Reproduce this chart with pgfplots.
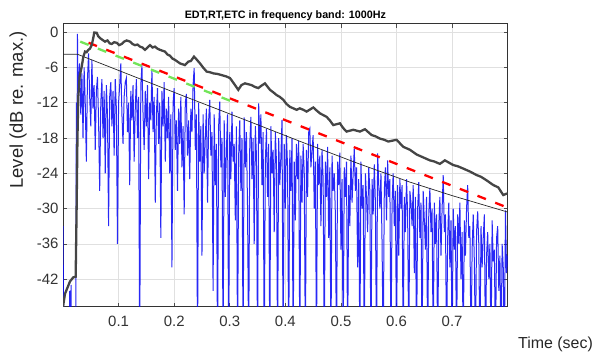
\documentclass[border=0pt]{standalone}
\usepackage{fontspec}
\setmainfont{Liberation Sans}
\usepackage{pgfplots}
\pgfplotsset{compat=1.18}
\definecolor{etcgray}{rgb}{0.27,0.27,0.27}
\definecolor{edtgreen}{rgb}{0.45,0.9,0.35}
\definecolor{etcblue}{rgb}{0.04,0.04,0.96}
\begin{document}
\begin{tikzpicture}
\useasboundingbox (0,0) rectangle (596bp,352bp);
\begin{axis}[
  at={(63bp,45.3bp)}, anchor=south west,
  scale only axis, width=444.7bp, height=282.7bp,
  xmin=0, xmax=0.8, ymin=-46.7, ymax=1.4,
  xtick={0.1,0.2,0.3,0.4,0.5,0.6,0.7},
  xticklabels={0.1,0.2,0.3,0.4,0.5,0.6,0.7},
  ytick={-42,-36,-30,-24,-18,-12,-6,0},
  yticklabels={-42,-36,-30,-24,-18,-12,-6,0},
  grid=major, major grid style={black!12, line width=0.6bp},
  axis line style={black!80, line width=1bp},
  tick align=inside, major tick length=4bp,
  tick style={black!70, line width=0.6bp},
  ticklabel style={font=\fontsize{15}{17}\selectfont, text=black!80},
  xticklabel style={yshift=-6bp},
  yticklabel style={xshift=-1bp},
  /pgf/number format/assume math mode=true,
  clip=true, axis on top=false,
]
% ETC (blue)
\addplot[etcblue, line width=1.0bp, opacity=0.88] coordinates {
(0.000,-33) (0.0015,-55) (0.011,-55) (0.012,-44) (0.013,-55) (0.0145,-43) (0.0155,-55) (0.023,-55) (0.024,-12) (0.025,-28) (0.026,-0.3) (0.027,-10)
(.028,-9) (.030,-5.3) (.032,-14) (.034,-7) (.036,-18) (.038,-6) (.040,-12) (.042,-22) (.044,-8) (.046,-3.6)
(.048,-11) (.050,-16) (.052,-4.7) (.054,-13) (.056,-9) (.058,-20) (.060,-10) (.062,-7.6) (.064,-15) (.066,-27)
(.068,-12) (.070,-8) (.072,-18) (.074,-10) (.076,-24) (.078,-9) (.080,-14) (.082,-33) (.084,-11) (.086,-8.5)
(.088,-16) (.090,-10) (.092,-21) (.094,-8) (.096,-13) (.098,-36) (.100,-12) (.102,-9) (.104,-5.3) (.106,-14)
(.108,-19) (.110,-11) (.112,-8.5) (.114,-7.8) (.116,-17) (.118,-12) (.120,-26) (.122,-10) (.124,-15) (.126,-9)
(.128,-22) (.130,-13) (.132,-8) (.134,-18) (.136,-11) (.138,-55) (.140,-9) (.142,-5.6) (.144,-14) (.146,-20)
(.148,-10) (.150,-16) (.152,-9) (.154,-25) (.156,-12) (.158,-15) (.160,-6.4) (.162,-17) (.164,-11) (.166,-29)
(.168,-14) (.170,-9.5) (.172,-19) (.174,-12) (.176,-35) (.178,-10) (.180,-16) (.182,-8.5) (.184,-22) (.186,-13)
(.188,-18) (.190,-11) (.192,-24) (.194,-14) (.196,-40) (.198,-12) (.200,-9.5) (.202,-20) (.204,-15) (.206,-27)
(.208,-13) (.210,-19) (.212,-11) (.214,-23) (.216,-16) (.218,-31) (.220,-12) (.222,-10.5) (.224,-21) (.226,-15)
(.228,-25) (.230,-13) (.232,-17) (.234,-9) (.236,-6.1) (.238,-20) (.240,-14) (.242,-55) (.244,-12) (.246,-22)
(.248,-16) (.250,-38) (.252,-14) (.254,-24) (.256,-18) (.258,-13) (.260,-29) (.262,-15) (.264,-11.5) (.266,-21)
(.268,-17) (.270,-44) (.272,-14) (.274,-26) (.276,-19) (.278,-55) (.280,-16) (.282,-11.8) (.284,-23) (.286,-18)
(.288,-55) (.290,-15) (.292,-28) (.294,-20) (.296,-14) (.298,-55) (.300,-17) (.302,-25) (.304,-13.5) (.306,-22)
(.308,-19) (.310,-32) (.312,-16) (.314,-55) (.316,-21) (.318,-15) (.320,-27) (.322,-18) (.324,-55) (.326,-14.5)
(.328,-23) (.330,-17) (.332,-30) (.334,-55) (.336,-19) (.338,-14.4) (.340,-25) (.342,-18) (.344,-36) (.346,-16)
(.348,-21) (.350,-55) (.352,-12.1) (.354,-19) (.356,-14) (.358,-26) (.360,-17) (.362,-55) (.364,-22) (.366,-16.5)
(.368,-28) (.370,-19) (.372,-55) (.374,-16) (.376,-24) (.378,-20) (.380,-34) (.382,-17) (.384,-22) (.386,-55)
(.388,-18) (.390,-26) (.392,-21) (.394,-14.9) (.396,-55) (.398,-19) (.400,-30) (.402,-17.5) (.404,-23) (.406,-55)
(.408,-20) (.410,-27) (.412,-18) (.414,-55) (.416,-22) (.418,-32) (.420,-19) (.422,-25) (.424,-18.5) (.426,-55)
(.428,-21) (.430,-29) (.432,-19) (.434,-24) (.436,-55) (.438,-20) (.440,-28) (.442,-17) (.444,-16.4) (.446,-23)
(.448,-20) (.450,-17.5) (.452,-30) (.454,-22) (.456,-55) (.458,-19) (.460,-26) (.462,-21) (.464,-33) (.466,-20)
(.468,-25) (.470,-55) (.472,-22) (.474,-28) (.476,-19.5) (.478,-35) (.480,-23) (.482,-55) (.484,-21) (.486,-27)
(.488,-24) (.490,-31) (.492,-55) (.494,-22) (.496,-26) (.498,-20.5) (.500,-37) (.502,-25) (.504,-55) (.506,-23)
(.508,-28) (.510,-22) (.512,-55) (.514,-26) (.516,-33) (.518,-21) (.520,-29) (.522,-24) (.524,-19.8) (.526,-27)
(.528,-23) (.530,-40) (.532,-25) (.534,-55) (.536,-22) (.538,-30) (.540,-26) (.542,-55) (.544,-24) (.546,-28)
(.548,-34) (.550,-23) (.552,-27) (.554,-55) (.556,-25) (.558,-31) (.560,-22.5) (.562,-29) (.564,-55) (.566,-20.6)
(.568,-26) (.570,-30) (.572,-24) (.574,-36) (.576,-55) (.578,-27) (.580,-23) (.582,-32) (.584,-21.8) (.586,-28)
(.588,-25) (.590,-55) (.592,-29) (.594,-24) (.596,-33) (.598,-27) (.600,-55) (.602,-26) (.604,-38) (.606,-25)
(.608,-30) (.610,-26) (.612,-55) (.614,-28) (.616,-34) (.618,-25) (.620,-31) (.622,-55) (.624,-27) (.626,-29)
(.628,-33) (.630,-26) (.632,-41) (.634,-28) (.636,-55) (.638,-30) (.640,-25.5) (.642,-35) (.644,-29) (.646,-55)
(.648,-27) (.650,-32) (.652,-37) (.654,-28) (.656,-55) (.658,-31) (.660,-26.5) (.662,-34) (.664,-30) (.666,-55)
(.668,-29) (.670,-36) (.672,-31) (.674,-55) (.676,-33) (.678,-28) (.680,-38) (.682,-30) (.684,-24.3) (.686,-34)
(.688,-31) (.690,-55) (.692,-35) (.694,-29) (.696,-40) (.698,-32) (.700,-55) (.702,-30) (.704,-37) (.706,-33)
(.708,-55) (.710,-31) (.712,-36) (.714,-29) (.716,-42) (.718,-34) (.720,-55) (.722,-32) (.724,-38) (.726,-30)
(.728,-26) (.730,-35) (.732,-33) (.734,-55) (.736,-37) (.738,-31) (.740,-39) (.742,-55) (.744,-34) (.746,-30.5)
(.748,-36) (.750,-55) (.752,-33) (.754,-40) (.756,-35) (.758,-31) (.760,-55) (.762,-38) (.764,-34) (.766,-42)
(.768,-36) (.770,-55) (.772,-32) (.774,-39) (.776,-37) (.778,-55) (.780,-35) (.782,-33) (.784,-44) (.786,-38)
(.788,-55) (.790,-36) (.792,-40) (.794,-55) (.796,-30.3) (.798,-41) (.800,-38)
};
% thin black line
\addplot[black!85, line width=0.7bp] coordinates {
(0,-3.75) (0.026,-3.75) (0.1,-6.5) (0.21,-10.6) (0.33,-15.0) (0.43,-18.7) (0.53,-22.3) (0.624,-25.5) (0.7,-27.8) (0.8,-30.6)
};
% RT (red dashed)
\addplot[red, line width=2.3bp, dash pattern=on 9bp off 10bp, dash phase=9.5bp] coordinates {(0.03,-1.2) (0.8,-29.85)};
% EDT (green dashed)
\addplot[edtgreen, line width=2.3bp, dash pattern=on 9bp off 10bp] coordinates {(0.031,-1.6) (0.315,-12.2)};
% smoothed level (gray)
\addplot[etcgray, line width=2.3bp] coordinates {
(0,-46.7) (0.0036,-44.5) (0.0126,-42.4) (0.0185,-41.7) (0.0228,-41.6) (0.0245,-30) (0.026,-18) (0.0275,-11) (0.030,-7.5) (0.0336,-5.9) (0.0365,-4.2) (0.0396,-3.3) (0.0425,-3.4) (0.0455,-3.0) (0.0485,-2.8) (0.0516,-2.2) (0.054,-1.2) (0.0563,-0.05) (0.0606,-0.1) (0.0635,-0.7) (0.0665,-1.0) (0.071,-1.3) (0.0755,-1.6) (0.080,-1.4) (0.084,-1.9) (0.0876,-2.0) (0.092,-1.7) (0.0966,-1.8) (0.101,-2.2) (0.1056,-2.0) (0.110,-1.6) (0.1146,-1.4) (0.1205,-1.6) (0.125,-2.0) (0.1295,-2.2) (0.134,-2.1) (0.1385,-2.45) (0.143,-2.6) (0.1475,-3.0) (0.152,-2.6) (0.1565,-2.2) (0.161,-2.6) (0.1655,-2.45) (0.170,-2.8) (0.1745,-3.0) (0.1835,-3.3) (0.188,-3.8) (0.1924,-4.0) (0.197,-4.5) (0.2014,-4.7) (0.2104,-5.3) (0.2194,-5.6) (0.2254,-5.0) (0.230,-4.9) (0.2356,-4.15) (0.240,-4.6) (0.2464,-5.3) (0.252,-6.0) (0.2584,-6.7) (0.264,-6.8) (0.2704,-7.0) (0.278,-7.1) (0.2854,-7.3) (0.293,-7.5) (0.3004,-7.8) (0.308,-8.8) (0.3153,-9.8) (0.321,-9.0) (0.3273,-8.7) (0.3393,-9.0) (0.345,-9.3) (0.3513,-9.5) (0.357,-9.1) (0.3633,-8.7) (0.3723,-9.8) (0.378,-10.2) (0.3843,-10.7) (0.390,-11.0) (0.3963,-11.5) (0.402,-12.2) (0.4083,-12.7) (0.4203,-13.2) (0.426,-12.95) (0.4323,-13.2) (0.4383,-13.5) (0.4503,-12.8) (0.456,-13.3) (0.4622,-13.8) (0.4742,-14.4) (0.480,-15.0) (0.4862,-15.8) (0.4982,-15.5) (0.504,-16.3) (0.5102,-16.9) (0.5222,-16.6) (0.5342,-16.9) (0.5432,-16.5) (0.5552,-17.5) (0.562,-17.7) (0.5701,-18.1) (0.578,-18.3) (0.5851,-18.6) (0.6001,-18.3) (0.6121,-19.5) (0.6241,-20.0) (0.6361,-20.8) (0.648,-21.3) (0.660,-21.8) (0.668,-22.0) (0.678,-22.4) (0.687,-21.8) (0.702,-22.6) (0.710,-22.8) (0.720,-23.2) (0.732,-23.7) (0.744,-24.3) (0.752,-24.6) (0.762,-25.2) (0.774,-26.0) (0.783,-26.4) (0.792,-27.7) (0.8,-27.4)
};
\end{axis}
\node[font=\bfseries\fontsize{10.8}{12}\selectfont] at (285.4bp,336bp) {EDT,RT,ETC in frequency band: 1000Hz};
\node[font=\fontsize{16}{18}\selectfont, text=black!85] at (555.5bp,8bp) {Time (sec)};
\node[font=\fontsize{18.5}{20}\selectfont, text=black!85, rotate=90] at (18bp,242bp) {Level (dB re. max.)};
\end{tikzpicture}
\end{document}
